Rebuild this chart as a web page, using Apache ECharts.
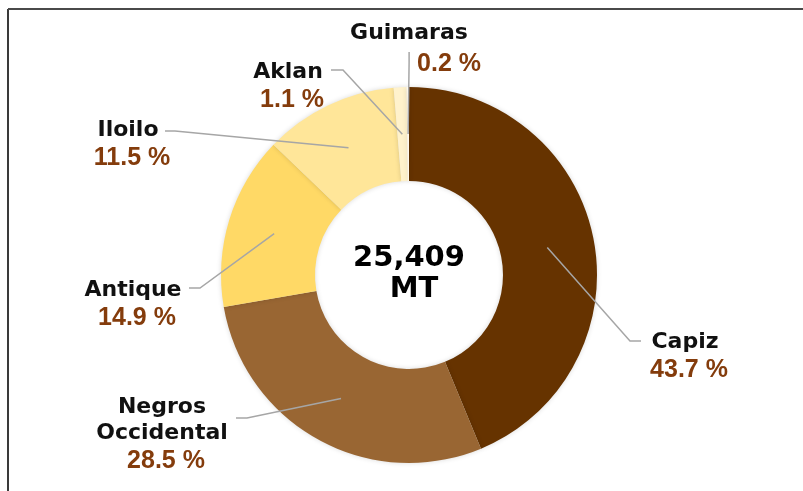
<!DOCTYPE html>
<html><head><meta charset="utf-8">
<script src="https://cdn.jsdelivr.net/npm/echarts@6/dist/echarts.min.js"></script>
<style>html,body{margin:0;padding:0;background:#fff}#c{width:803px;height:491px}</style>
</head><body><div id="c"></div>
<script>
// ---- data ----
const categories = ['Capiz', 'Negros Occidental', 'Antique', 'Iloilo', 'Aklan', 'Guimaras'];
const shares = [43.7, 28.5, 14.9, 11.5, 1.1, 0.2];
const centerLines = ['25,409', ' MT'];
const colors = ['#663300', '#996633', '#FFD966', '#FFE699', '#FFF2CC', '#FFF9EC'];

// ---- layout (pixels) ----
const CX = 409, CY = 275, R0 = 94, R = 188, RMID = (R0 + R) / 2;
const labelCenters = [[685, 357], [162, 435], [133, 305], [128, 145], [288, 87], [409, 51]];
const lineEnds = [
  [[630, 341], [641, 341]],
  [[247, 418], [236, 418]],
  [[200, 288], [189, 288]],
  [[175, 131], [165, 131]],
  [[343, 70], [331, 70]],
  null
];
const LINE_COLOR = '#A6A6A6';

const chart = echarts.init(document.getElementById('c'), null, {renderer: 'canvas'});

const data = categories.map((name, i) => {
  const item = {name: name, value: shares[i], itemStyle: {color: colors[i]}};
  if (i === categories.length - 1) {
    item.label = {
      formatter: p => '{n|' + p.name + '}\n{q|' + p.value.toFixed(1) + ' %}'
    };
  }
  return item;
});

const anchors = [];
const baseGraphic = [
  {type: 'line', shape: {x1: 8, y1: 9, x2: 8, y2: 491}, style: {stroke: '#3a3a3a', lineWidth: 2}},
  {type: 'line', shape: {x1: 8, y1: 9, x2: 803, y2: 9}, style: {stroke: '#4a4a4a', lineWidth: 2}},
  {type: 'text', x: CX, y: CY - 1, z: 10,
    style: {text: centerLines.join('\n'), align: 'center', verticalAlign: 'middle',
      font: 'bold 29px "DejaVu Sans"', lineHeight: 31, fill: '#000'}}
];

const option = {
  animation: false,
  backgroundColor: '#ffffff',
  graphic: baseGraphic,
  series: [{
    type: 'pie',
    center: [CX, CY],
    radius: [R0, R],
    startAngle: 90,
    clockwise: true,
    avoidLabelOverlap: false,
    itemStyle: {borderWidth: 0, shadowBlur: 5, shadowColor: 'rgba(0,0,0,0.15)'},
    emphasis: {disabled: true},
    label: {
      show: true,
      position: 'outside',
      formatter: p => p.name.split(' ').map(s => '{n|' + s + '}').join('\n') + '\n{p|' + p.value.toFixed(1) + ' %}',
      rich: {
        n: {fontFamily: '"DejaVu Sans"', fontWeight: 'bold', fontSize: 22, lineHeight: 26, color: '#111', align: 'center'},
        p: {fontFamily: '"Liberation Sans"', fontWeight: 'bold', fontSize: 25, lineHeight: 30, color: '#843C0C', align: 'center', padding: [0, 0, 0, 8]},
        q: {fontFamily: '"Liberation Sans"', fontWeight: 'bold', fontSize: 25, lineHeight: 36, color: '#843C0C', align: 'left', padding: [0, 0, 0, 80]}
      }
    },
    labelLine: {show: true, length: 10, length2: 10, lineStyle: {color: 'rgba(0,0,0,0)', width: 0}},
    labelLayout: function (p) {
      const i = p.dataIndex;
      if (p.labelLinePoints && p.labelLinePoints[0]) anchors[i] = p.labelLinePoints[0].slice();
      return {x: labelCenters[i][0], y: labelCenters[i][1], align: 'center', verticalAlign: 'middle'};
    },
    data: data
  }]
};
chart.setOption(option);

// leader lines from the middle of each ring sector (library layout) to its label
function midRingPoint(i) {
  try {
    const L = chart.getModel().getSeriesByIndex(0).getData().getItemLayout(i);
    if (L && L.startAngle != null) {
      const a = (L.startAngle + L.endAngle) / 2;
      const rm = (L.r + L.r0) / 2;
      return [L.cx + rm * Math.cos(a), L.cy + rm * Math.sin(a)];
    }
  } catch (e) {}
  const p0 = anchors[i];
  if (p0) {
    const dx = p0[0] - CX, dy = p0[1] - CY, d = Math.sqrt(dx * dx + dy * dy) || 1;
    return [CX + dx / d * RMID, CY + dy / d * RMID];
  }
  return [CX, CY - RMID];
}
const leaders = categories.map((_, i) => {
  const m = midRingPoint(i);
  const pts = lineEnds[i] ? [m, lineEnds[i][0], lineEnds[i][1]] : [m, [m[0] + 1, 62], [m[0] + 1, 52]];
  return {type: 'polyline', z: 50, shape: {points: pts}, style: {stroke: LINE_COLOR, lineWidth: 1.5, fill: null}};
});
chart.setOption({graphic: baseGraphic.concat(leaders)});
</script>
</body></html>
